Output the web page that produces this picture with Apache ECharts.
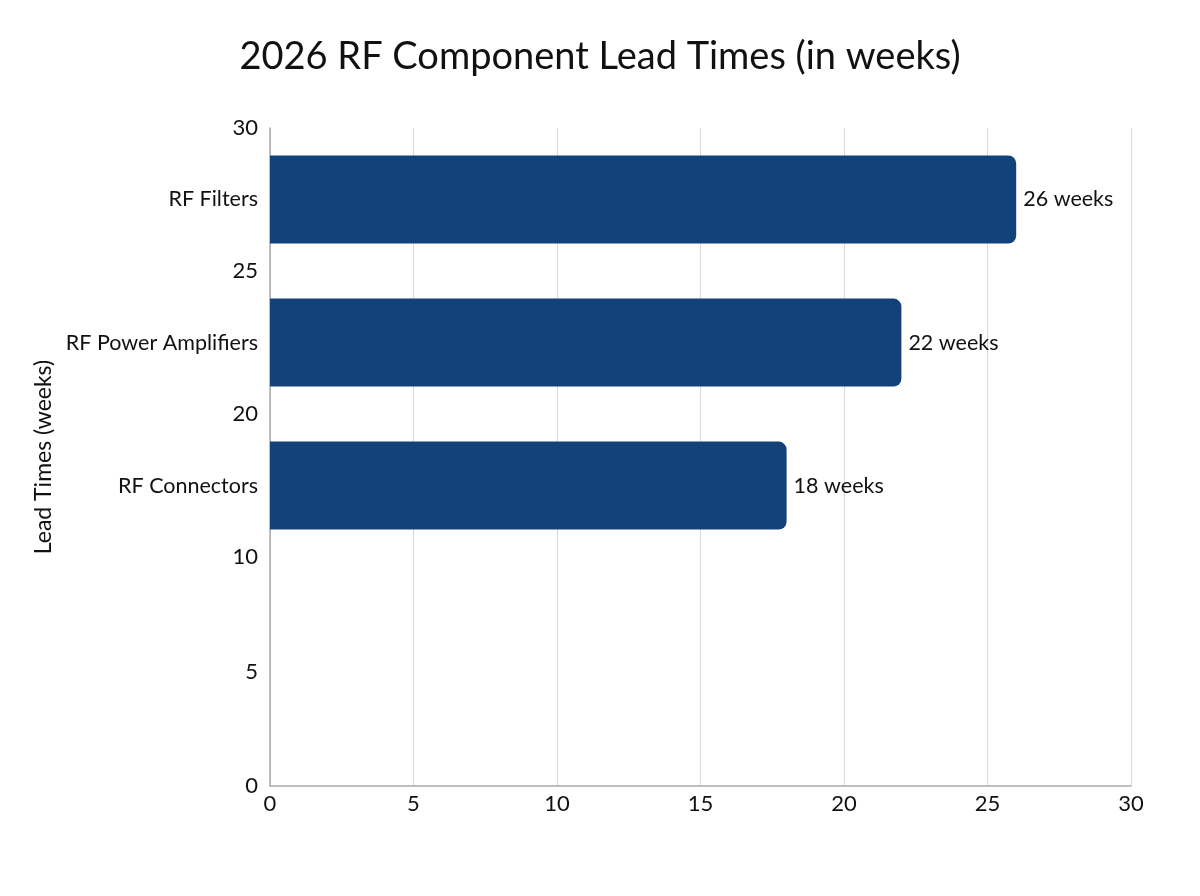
<!DOCTYPE html>
<html>
<head>
<meta charset="utf-8">
<title>2026 RF Component Lead Times</title>
<script src="https://cdn.jsdelivr.net/npm/echarts@6/dist/echarts.min.js"></script>
<style>
  html, body { margin: 0; padding: 0; background: #fff; }
  #chart { width: 1200px; height: 896px; }
</style>
</head>
<body>
<div id="chart"></div>
<script>
// data
const categories = ['RF Filters', 'RF Power Amplifiers', 'RF Connectors'];
const leadTimes = [26, 22, 18];
const yTickLabels = ['30', '25', '20', '10', '5', '0'];
const xMin = 0, xMax = 30, xStep = 5;

// layout: the left axis is split into 23 small slots, bars sit in slots 2/7/12,
// numeric labels sit on slot boundaries 0/5/10/15/19/23
const slotCount = 23;
const barSlots = [2, 7, 12];
const tickSlots = [0, 5, 10, 15, 19, 23];

const catSlots = new Array(slotCount).fill('');
const valSlots = new Array(slotCount).fill('-');
barSlots.forEach((s, i) => { catSlots[s] = categories[i]; valSlots[s] = leadTimes[i]; });

const tickSlotLabels = new Array(slotCount + 1).fill('');
tickSlots.forEach((s, i) => { tickSlotLabels[s] = yTickLabels[i]; });

const font = 'Lato, "Noto Sans", sans-serif';
const chart = echarts.init(document.getElementById('chart'));

chart.setOption({
  animation: false,
  title: {
    text: '2026 RF Component Lead Times (in weeks)',
    left: 'center',
    top: 33,
    textStyle: { fontFamily: font, fontSize: 38, fontWeight: 'normal', color: '#111' }
  },
  grid: { left: 270, right: 69, top: 128, bottom: 110 },
  xAxis: {
    type: 'value',
    min: xMin,
    max: xMax,
    interval: xStep,
    axisLine: { show: true, lineStyle: { color: '#aaa', width: 1.5 } },
    axisTick: { show: false },
    axisLabel: { fontFamily: font, fontSize: 22, color: '#111', margin: 7 },
    splitLine: { show: true, lineStyle: { color: '#d9d9d9', width: 1 } }
  },
  yAxis: [
    {
      type: 'category',
      inverse: true,
      data: catSlots,
      boundaryGap: true,
      name: 'Lead Times (weeks)',
      nameLocation: 'middle',
      nameGap: 214,
      nameTextStyle: { fontFamily: font, fontSize: 23, color: '#111' },
      axisLine: { show: true, lineStyle: { color: '#aaa', width: 1.5 } },
      axisTick: { show: false },
      axisLabel: { interval: 0, fontFamily: font, fontSize: 21.5, color: '#111', margin: 12 },
      splitLine: { show: false }
    },
    {
      type: 'category',
      position: 'left',
      inverse: true,
      data: tickSlotLabels,
      boundaryGap: false,
      axisLine: { show: false },
      axisTick: { show: false },
      axisLabel: { interval: 0, fontFamily: font, fontSize: 22, color: '#111', margin: 12 },
      splitLine: { show: false }
    }
  ],
  series: [
    {
      type: 'bar',
      yAxisIndex: 0,
      data: valSlots,
      barWidth: 88,
      itemStyle: { color: '#13427b', borderRadius: [0, 8, 8, 0] },
      label: {
        show: true,
        position: 'right',
        distance: 7,
        formatter: p => p.value + ' weeks',
        fontFamily: font,
        fontSize: 21.5,
        color: '#111'
      }
    }
  ]
});
</script>
</body>
</html>
